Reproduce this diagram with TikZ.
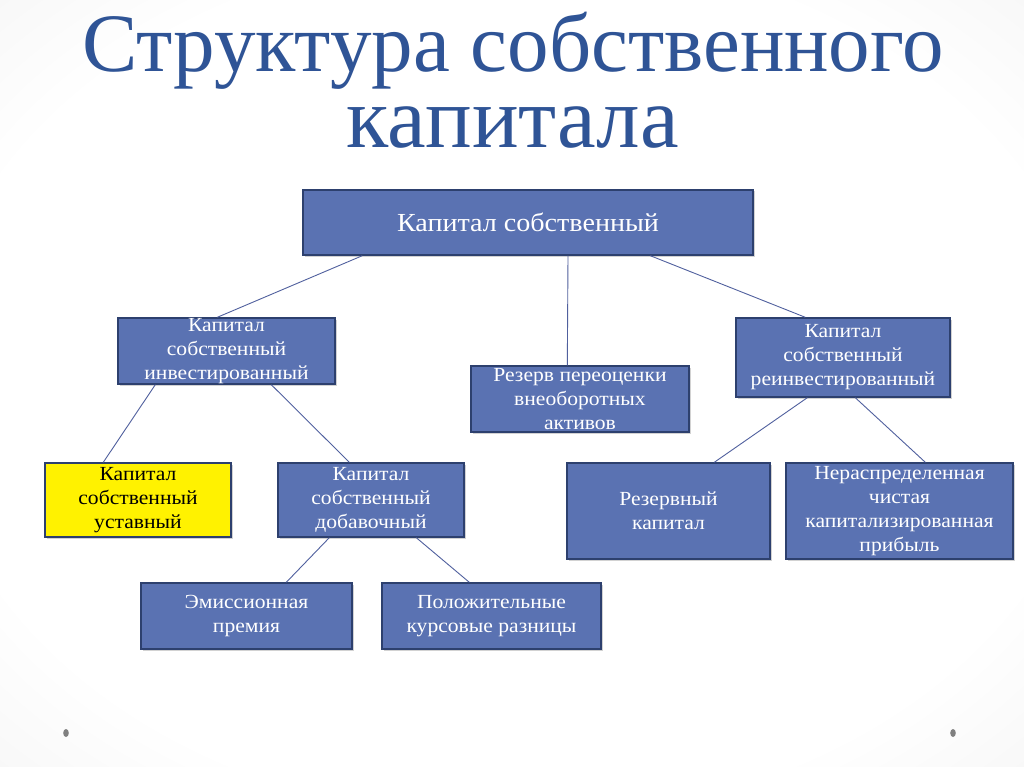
\documentclass[tikz,border=0pt]{standalone}
\usepackage{fontspec}
\setmainfont{Liberation Serif}
\newfontfamily\boxfont[FakeStretch=1.08]{Liberation Serif}
\newfontfamily\titlefont{Liberation Serif}
\usetikzlibrary{calc,shadows}
\definecolor{boxblue}{RGB}{90,114,178}
\definecolor{boxedge}{RGB}{45,64,110}
\definecolor{linkblue}{RGB}{80,96,158}
\definecolor{titleblue}{RGB}{47,84,150}
\definecolor{dotgray}{RGB}{128,128,128}
\pgfdeclareradialshading{bgshade}{\pgfpoint{0bp}{0bp}}{color(0bp)=(white); color(28bp)=(white); color(50bp)=(black!8); color(71bp)=(black!18)}
\tikzset{
  box/.style={draw=boxedge, line width=1.4pt, fill=boxblue, text=white, align=center,
    inner sep=0pt, font=\boxfont\fontsize{20}{24}\selectfont,
    drop shadow={shadow xshift=1.5pt, shadow yshift=-1.5pt, opacity=0.35}},
  yellowbox/.style={box, fill=yellow, text=black},
  link/.style={draw=linkblue, line width=0.9pt},
  title/.style={text=titleblue, anchor=base, align=center, inner sep=0pt, font=\titlefont\fontsize{83}{76}\selectfont},
  dot/.style={fill=dotgray, draw=none}
}
\begin{document}
\begin{tikzpicture}[x=1pt,y=-1pt]
\useasboundingbox (0,0) rectangle (1024,767);
\shade[shading=bgshade] (0,0) rectangle (1024,767);
% title
\node[title] (title) at (513,148) {Структура собственного\\{\fontsize{87}{76}\selectfont капитала}};
% boxes
\node[box, minimum width=450pt, minimum height=65pt, font=\boxfont\fontsize{26}{28}\selectfont] (top) at (528,222.5) {Капитал собственный};
\node[box, minimum width=217pt, minimum height=66pt] (inv) at (226.5,351) {Капитал\\собственный\\инвестированный};
\node[box, minimum width=218pt, minimum height=66pt] (rev) at (580,399) {Резерв переоценки\\внеоборотных\\активов};
\node[box, minimum width=214pt, minimum height=79pt] (reinv) at (843,357.5) {Капитал\\собственный\\реинвестированный};
\node[yellowbox, minimum width=186pt, minimum height=74pt] (ust) at (138,500) {Капитал\\собственный\\уставный};
\node[box, minimum width=186pt, minimum height=74pt] (dob) at (371,500) {Капитал\\собственный\\добавочный};
\node[box, minimum width=203pt, minimum height=96pt] (res) at (668.5,511) {Резервный\\капитал};
\node[box, minimum width=227pt, minimum height=96pt] (ner) at (899.5,511) {Нераспределенная\\чистая\\капитализированная\\прибыль};
\node[box, minimum width=211pt, minimum height=66pt] (emi) at (246.5,616) {Эмиссионная\\премия};
\node[box, minimum width=219pt, minimum height=66pt] (pol) at (491.5,616) {Положительные\\курсовые разницы};
% connectors
\draw[link] ($(top.south west)+(60,0)$) -- ($(inv.north west)+(100,0)$);
\draw[link] ($(top.south)+(40,0)$) -- ($(rev.north west)+(97,0)$);
\draw[link] ($(top.south west)+(348,0)$) -- ($(reinv.north west)+(70,0)$);
\draw[link] ($(inv.south west)+(38,0)$) -- ($(ust.north west)+(59,0)$);
\draw[link] ($(inv.south west)+(154,0)$) -- ($(dob.north west)+(72,0)$);
\draw[link] ($(reinv.south west)+(72,0)$) -- ($(res.north west)+(148,0)$);
\draw[link] ($(reinv.south west)+(120,0)$) -- ($(ner.north west)+(140,0)$);
\draw[link] ($(dob.south west)+(52,0)$) -- ($(emi.north west)+(146,0)$);
\draw[link] ($(dob.south west)+(139,0)$) -- ($(pol.north west)+(88,0)$);
% dots
\fill[dot] (66,733) ellipse (2.8pt and 4pt);
\fill[dot] (953,733) ellipse (2.8pt and 4pt);
\end{tikzpicture}
\end{document}
